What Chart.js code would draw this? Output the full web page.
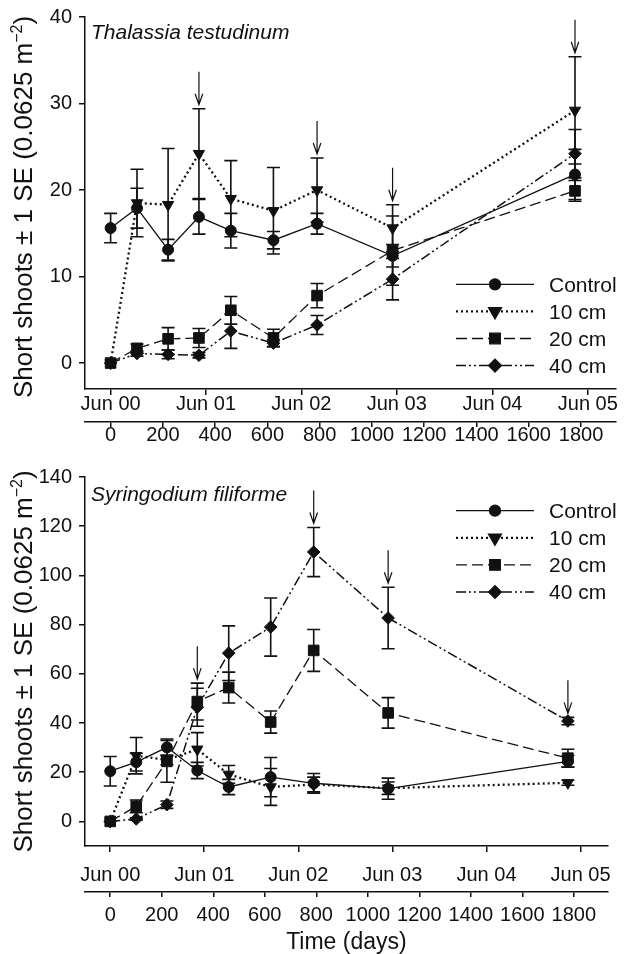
<!DOCTYPE html>
<html>
<head>
<meta charset="utf-8">
<script src="https://cdn.jsdelivr.net/npm/chart.js@4.4.0/dist/chart.umd.min.js"></script>
<style>
  html, body { margin: 0; padding: 0; background: #fff; }
  #wrap { position: relative; width: 624px; height: 954px; }
  canvas { position: absolute; left: 0; }
  #top { top: 0; }
  #bottom { top: 460px; }
</style>
</head>
<body>
<div id="wrap">
  <canvas id="top" width="624" height="460"></canvas>
  <canvas id="bottom" width="624" height="494"></canvas>
</div>
<script>
// ===============================
// DATA
// ===============================
const days = [0, 101, 220, 338, 460, 623, 790, 1079, 1777];
const seriesNames = ["Control", "10 cm", "20 cm", "40 cm"];

const junDays = [0, 365, 730, 1095, 1461, 1826];
const junLabels = ["Jun 00", "Jun 01", "Jun 02", "Jun 03", "Jun 04", "Jun 05"];
const dayTicks = [0, 200, 400, 600, 800, 1000, 1200, 1400, 1600, 1800];

// Thalassia testudinum
const thalControl = [15.6, 17.9, 13.1, 16.9, 15.3, 14.2, 16.1, 12.4, 21.8];
const thalControlSE = [1.7, 2.3, 1.2, 2.0, 2.0, 1.0, 1.2, 1.3, 2.9];
const thal10 = [0, 18.5, 18.3, 24.2, 19.0, 17.6, 20.0, 15.6, 29.2];
const thal10SE = [0, 3.9, 6.5, 5.2, 4.4, 5.0, 3.7, 2.7, 6.2];
const thal20 = [0, 1.7, 2.8, 2.9, 6.1, 2.9, 7.8, 13.0, 19.9];
const thal20SE = [0, 0.5, 1.3, 1.1, 1.6, 1.0, 1.4, 4.0, 1.2];
const thal40 = [0, 1.1, 1.0, 0.9, 3.7, 2.3, 4.4, 9.7, 24.2];
const thal40SE = [0, 0.3, 0.5, 0.3, 2.0, 0.4, 1.1, 2.4, 2.8];
const thalYTicks = [0, 10, 20, 30, 40];

// Syringodium filiforme
const syrControl = [20.4, 24.1, 30.1, 20.7, 14.0, 18.0, 15.5, 13.3, 24.4];
const syrControlSE = [6.0, 3.6, 3.4, 3.3, 3.1, 8.0, 4.0, 4.3, 2.4];
const syr10 = [0, 26.7, 25.0, 29.3, 19.1, 14.0, 15.0, 13.5, 15.7];
const syr10SE = [0, 7.4, 2.0, 6.8, 3.6, 7.5, 3.0, 2.5, 1.0];
const syr20 = [0, 6.1, 24.4, 48.7, 54.4, 40.4, 69.5, 44.1, 25.7];
const syr20SE = [0, 2.6, 8.5, 7.5, 6.3, 4.5, 8.5, 6.2, 3.6];
const syr40 = [0, 1.0, 6.8, 46.4, 68.4, 79.0, 109.5, 82.7, 40.8];
const syr40SE = [0, 0.5, 1.5, 7.7, 11.1, 11.8, 10.0, 12.5, 1.5];
const syrYTicks = [0, 20, 40, 60, 80, 100, 120, 140];

// sampling dates marked with an arrow
const arrowIdx = [3, 6, 7, 8];

// ===============================
// STYLES
// ===============================
const INK = "#111";
const FONT = "'Liberation Sans', Arial, Helvetica, sans-serif";

const seriesStyles = [
  { pointStyle: "circle", radius: 5.5, rotation: 0, dash: [], width: 1.3 },
  { pointStyle: "triangle", radius: 6.5, rotation: 180, dash: [2, 3], width: 2.3 },
  { pointStyle: "rect", radius: 7.5, rotation: 0, dash: [11, 5], width: 1.3 },
  { pointStyle: "rectRot", radius: 6.3, rotation: 0, dash: [10, 3, 2, 3, 2, 3], width: 1.5 },
];

// ===============================
// PLUGINS
// ===============================
const errorBars = {
  id: "errorBars",
  beforeDatasetsDraw(chart) {
    const { ctx } = chart;
    const x = chart.scales.x, y = chart.scales.y;
    ctx.save();
    ctx.strokeStyle = INK;
    ctx.lineWidth = 1.6;
    chart.data.datasets.forEach((ds) => {
      ds.data.forEach((p, i) => {
        const se = ds.se[i];
        if (!se) return;
        const px = x.getPixelForValue(p.x);
        const y1 = y.getPixelForValue(p.y + se);
        const y2 = y.getPixelForValue(p.y - se);
        ctx.beginPath();
        ctx.moveTo(px, y1); ctx.lineTo(px, y2);
        ctx.moveTo(px - 6.5, y1); ctx.lineTo(px + 6.5, y1);
        ctx.moveTo(px - 6.5, y2); ctx.lineTo(px + 6.5, y2);
        ctx.stroke();
      });
    });
    ctx.restore();
  },
};

const overlay = {
  id: "overlay",
  afterDraw(chart, args, opts) {
    const { ctx, chartArea } = chart;
    const x = chart.scales.x, y = chart.scales.y;
    const dsets = chart.data.datasets;
    ctx.save();
    ctx.fillStyle = INK;
    ctx.strokeStyle = INK;

    // arrows above the highest error bar
    ctx.lineWidth = 1.2;
    arrowIdx.forEach((i) => {
      const top = Math.max(...dsets.map((d) => d.data[i].y + d.se[i]));
      const px = x.getPixelForValue(days[i]);
      const tip = y.getPixelForValue(top) - 4;
      ctx.beginPath();
      ctx.moveTo(px, tip - 33); ctx.lineTo(px, tip);
      ctx.moveTo(px - 3.8, tip - 11); ctx.lineTo(px, tip); ctx.lineTo(px + 3.8, tip - 11);
      ctx.stroke();
    });

    // species name
    ctx.font = "italic 21px " + FONT;
    ctx.textBaseline = "alphabetic";
    ctx.textAlign = "left";
    ctx.fillText(opts.species, chartArea.left + 6, chartArea.top + opts.speciesDy);

    // legend
    seriesNames.forEach((name, k) => {
      const st = seriesStyles[k];
      const ly = opts.legendY + k * 27.1;
      ctx.lineWidth = st.width;
      ctx.setLineDash(st.dash);
      ctx.beginPath();
      ctx.moveTo(opts.legendX, ly); ctx.lineTo(opts.legendX + 78, ly);
      ctx.stroke();
      ctx.setLineDash([]);
      Chart.helpers.drawPoint(ctx, { pointStyle: st.pointStyle, radius: st.radius, rotation: st.rotation, borderWidth: 1 }, opts.legendX + 39, ly);
      ctx.font = "21px " + FONT;
      ctx.fillText(name, opts.legendX + 93, ly + 7.3);
    });

    // y axis title with superscript
    const cy = (chartArea.top + chartArea.bottom) / 2 + opts.titleDy;
    const main = "Short shoots \u00b1 1 SE (0.0625 m";
    const sup = "\u22122";
    ctx.font = "26px " + FONT;
    const w1 = ctx.measureText(main).width;
    const w3 = ctx.measureText(")").width;
    ctx.font = "16px " + FONT;
    const w2 = ctx.measureText(sup).width;
    const total = w1 + w2 + w3;
    ctx.translate(32, cy);
    ctx.rotate(-Math.PI / 2);
    let sx = -total / 2;
    ctx.font = "26px " + FONT;
    ctx.fillText(main, sx, 0);
    sx += w1;
    ctx.font = "16px " + FONT;
    ctx.fillText(sup, sx, -10);
    sx += w2;
    ctx.font = "26px " + FONT;
    ctx.fillText(")", sx, 0);
    ctx.restore();
  },
};

// ===============================
// PANEL BUILDER
// ===============================
function makePanel(id, p) {
  const values = [p.control, p.c10, p.c20, p.c40];
  const errors = [p.controlSE, p.c10SE, p.c20SE, p.c40SE];

  const datasets = values.map((vals, k) => {
    const st = seriesStyles[k];
    return {
      label: seriesNames[k],
      data: vals.map((v, i) => ({ x: days[i], y: v })),
      se: errors[k],
      xAxisID: "x",
      yAxisID: "y",
      borderColor: INK,
      backgroundColor: INK,
      borderWidth: st.width,
      borderDash: st.dash,
      tension: 0,
      pointStyle: st.pointStyle,
      pointRotation: st.rotation,
      pointRadius: st.radius,
      pointBackgroundColor: INK,
      pointBorderColor: INK,
      pointBorderWidth: 1,
      clip: false,
    };
  });

  const tickFont = { family: FONT, size: 20, lineHeight: 1 };
  const axisGrid = { display: true, drawOnChartArea: false, drawTicks: true, color: INK, lineWidth: 1.5 };

  return new Chart(document.getElementById(id), {
    type: "line",
    data: { datasets },
    options: {
      responsive: false,
      animation: false,
      layout: { padding: { top: p.padTop, left: 0, right: 1, bottom: 0 } },
      scales: {
        x: {
          type: "linear",
          position: "bottom",
          weight: 0,
          min: -98,
          max: 1932,
          afterBuildTicks: (axis) => { axis.ticks = junDays.map((v) => ({ value: v })); },
          afterFit: (axis) => { axis.height = p.junHeight; },
          grid: { ...axisGrid, tickLength: 6 },
          border: { display: true, color: INK, width: 1.5 },
          ticks: {
            autoSkip: false, maxRotation: 0, minRotation: 0,
            padding: p.junPad, color: INK, font: tickFont,
            callback: (v) => junLabels[junDays.indexOf(v)],
          },
        },
        x2: {
          type: "linear",
          position: "bottom",
          weight: 1,
          min: -98,
          max: 1932,
          afterBuildTicks: (axis) => { axis.ticks = dayTicks.map((v) => ({ value: v })); },
          afterFit: (axis) => { axis.height = p.dayHeight; },
          grid: { ...axisGrid, tickLength: 5 },
          border: { display: true, color: INK, width: 1.5 },
          ticks: {
            autoSkip: false, maxRotation: 0, minRotation: 0,
            padding: p.dayPad, color: INK, font: tickFont,
            callback: (v) => String(v),
          },
          title: {
            display: p.xTitle,
            text: "Time (days)",
            color: INK,
            font: { family: FONT, size: 23, lineHeight: 1 },
            padding: { top: 0, bottom: 0 },
          },
        },
        y: {
          type: "linear",
          position: "left",
          min: p.yMin,
          max: p.yMax,
          afterBuildTicks: (axis) => { axis.ticks = p.yTicks.map((v) => ({ value: v })); },
          afterFit: (axis) => { axis.width = 85; },
          grid: { ...axisGrid, tickLength: 6 },
          border: { display: true, color: INK, width: 1.5 },
          ticks: { autoSkip: false, padding: 7, color: INK, font: tickFont },
        },
      },
      plugins: {
        legend: { display: false },
        tooltip: { enabled: false },
        overlay: {
          species: p.species,
          speciesDy: p.speciesDy,
          legendX: 456,
          legendY: p.legendY,
          titleDy: p.titleDy,
        },
      },
    },
    plugins: [errorBars, overlay],
  });
}

makePanel("top", {
  control: thalControl, controlSE: thalControlSE,
  c10: thal10, c10SE: thal10SE,
  c20: thal20, c20SE: thal20SE,
  c40: thal40, c40SE: thal40SE,
  yMin: -3, yMax: 40, yTicks: thalYTicks,
  padTop: 14, junHeight: 33, dayHeight: 38, junPad: -1, dayPad: -2,
  xTitle: false,
  species: "Thalassia testudinum", speciesDy: 22,
  legendY: 284.3, titleDy: 4,
});

makePanel("bottom", {
  control: syrControl, controlSE: syrControlSE,
  c10: syr10, c10SE: syr10SE,
  c20: syr20, c20SE: syr20SE,
  c40: syr40, c40SE: syr40SE,
  yMin: -10, yMax: 140, yTicks: syrYTicks,
  padTop: 12, junHeight: 46, dayHeight: 62, junPad: 13, dayPad: 8,
  xTitle: true,
  species: "Syringodium filiforme", speciesDy: 24,
  legendY: 50.7, titleDy: 0,
});
</script>
</body>
</html>
